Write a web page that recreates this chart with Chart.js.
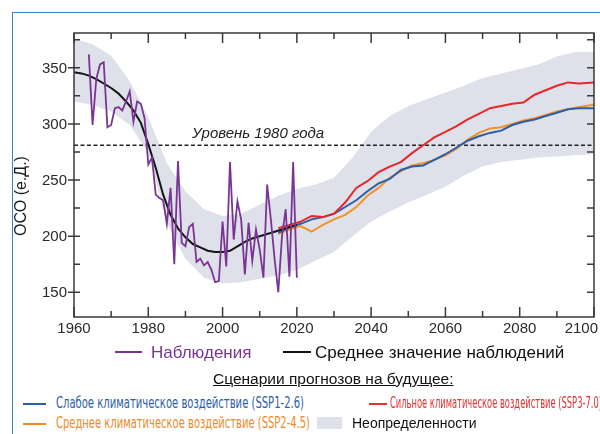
<!DOCTYPE html>
<html>
<head>
<meta charset="utf-8">
<script src="https://cdn.jsdelivr.net/npm/chart.js@4.4.1/dist/chart.umd.min.js"></script>
<style>
  body { margin: 0; background: #fff; }
  #wrap { position: relative; width: 600px; height: 434px; overflow: hidden; font-family: "Liberation Sans", Arial, sans-serif; }
  #frame { position: absolute; left: 12px; top: 12px; width: 600px; height: 440px; border-left: 1.5px solid #3d85c6; border-top: 1.5px solid #3d85c6; }
  #box { position: absolute; left: 0; top: 0; width: 600px; height: 345px; }
  .lg { position: absolute; white-space: nowrap; line-height: 1; }
  .nar { font-family: "Liberation Sans Narrow", "DejaVu Sans Condensed", "Liberation Sans", sans-serif; transform-origin: 0 50%; }
  .seg { position: absolute; height: 2px; }
</style>
</head>
<body>
<div id="wrap">
  <div id="frame"></div>
  <div id="box"><canvas id="myChart"></canvas></div>

  <div class="seg" style="left:115px;top:351px;width:27px;background:#7a3593"></div>
  <div class="lg" style="left:151px;top:344px;font-size:17px;color:#7a3593">Наблюдения</div>
  <div class="seg" style="left:283px;top:351px;width:28px;background:#111"></div>
  <div class="lg" style="left:315px;top:344px;font-size:17px;color:#111">Среднее значение наблюдений</div>

  <div class="lg" style="left:213px;top:371px;font-size:15.5px;color:#111;text-decoration:underline">Сценарии прогнозов на будущее:</div>

  <div class="seg" style="left:23px;top:403px;width:23px;background:#2b5ea8"></div>
  <div class="lg nar" data-w="248" style="left:56px;top:396px;font-size:15px;color:#2b5ea8">Слабое климатическое воздействие (SSP1-2.6)</div>
  <div class="seg" style="left:369px;top:403px;width:18px;background:#e53030"></div>
  <div class="lg nar" data-w="212" style="left:390px;top:396px;font-size:15px;color:#e53030">Сильное климатическое воздействие (SSP3-7.0)</div>

  <div class="seg" style="left:23px;top:423px;width:23px;background:#f08a24"></div>
  <div class="lg nar" data-w="254" style="left:56px;top:416px;font-size:15px;color:#f08a24">Среднее климатическое воздействие (SSP2-4.5)</div>
  <div style="position:absolute;left:317px;top:417px;width:25px;height:12px;background:#dfe1ea"></div>
  <div class="lg" style="left:352px;top:416px;font-size:14px;color:#111">Неопределенности</div>
</div>

<script>
const obsYears = [1964,1965,1966,1967,1968,1969,1970,1971,1972,1973,1974,1975,1976,1977,1978,1979,1980,1981,1982,1983,1984,1985,1986,1987,1988,1989,1990,1991,1992,1993,1994,1995,1996,1997,1998,1999,2000,2001,2002,2003,2004,2005,2006,2007,2008,2009,2010,2011,2012,2013,2014,2015,2016,2017,2018,2019,2020];
const obsValues = [362,299,340,353,355,297,299,314,315,312,320,329,302,320,318,305,264,270,237,234,232,211,243,175,267,194,191,208,211,177,180,174,177,170,159,160,213,173,266,197,231,215,166,212,178,206,188,163,246,215,180,150,200,224,164,266,163];

const meanYears = [1960,1962,1964,1966,1968,1970,1972,1974,1976,1978,1980,1982,1984,1986,1988,1990,1992,1994,1996,1998,2000,2002,2004,2006,2008,2010,2012,2014,2016,2018,2020];
const meanValues = [346,345,343,340,336,332,327,320,312,301,282,261,237,219,207,199,193,190,187,186,186,187,191,195,198,200,202,204,206,208,210];

const bandYears = [1960,1965,1970,1975,1980,1985,1990,1995,2000,2005,2010,2015,2020,2025,2030,2035,2040,2045,2050,2055,2060,2065,2070,2075,2080,2085,2090,2095,2100];
const bandUpper = [376,371,361,338,306,265,240,224,218,220,228,236,242,246,252,270,293,307,316,322,328,334,341,345,349,353,360,364,364];
const bandLower = [320,317,311,299,274,212,180,163,158,159,162,165,170,178,186,200,213,222,230,237,244,254,262,266,268,270,271,272,273];

const scenYears = [2015,2018,2021,2024,2027,2030,2033,2036,2039,2042,2045,2048,2051,2054,2057,2060,2063,2066,2069,2072,2075,2078,2081,2084,2087,2090,2093,2096,2100];
const ssp126 = [203,208,211,215,217,220,226,232,240,247,251,259,262,263,268,273,279,285,289,292,294,299,302,304,307,310,313,314,314];
const ssp245 = [202,206,209,204,210,215,219,226,236,243,252,258,263,265,268,272,278,286,292,296,297,300,303,305,308,311,313,315,317];
const ssp370 = [207,210,213,218,217,220,230,243,249,257,262,266,274,281,288,293,298,304,309,314,316,318,319,326,330,334,337,336,337];

const level1980 = 281;
const levelLabel = 'Уровень 1980 года';

const xTickValues = [1960,1970,1980,1990,2000,2010,2020,2030,2040,2050,2060,2070,2080,2090,2100];
const xTickLabels = ['1960','1980','2000','2020','2040','2060','2080','2100'];
const yTickValues = [150,175,200,225,250,275,300,325,350,375];
const yTickLabels = ['150','200','250','300','350'];
const yTitle = 'ОСО (е.Д.)';

const pts = (xs, ys) => xs.map((x, i) => ({ x: x, y: ys[i] }));
const line = (label, xs, ys, color, width, order) => ({
  label, data: pts(xs, ys), borderColor: color, borderWidth: width,
  pointRadius: 0, fill: false, tension: 0, order
});

const band = '#dfe1ea';

// axes, ticks and labels drawn by hand, inside ticks like the original
const frame = {
  id: 'frame',
  afterDatasetsDraw(chart) {
    const { ctx, chartArea: a, scales: { x, y } } = chart;
    ctx.save();
    ctx.strokeStyle = '#3a3a3a';
    ctx.lineWidth = 1.5;
    ctx.beginPath();
    xTickValues.forEach(v => {
      const px = x.getPixelForValue(v);
      const len = xTickLabels.includes(String(v)) ? 10 : 6;
      ctx.moveTo(px, a.bottom); ctx.lineTo(px, a.bottom - len);
      ctx.moveTo(px, a.top); ctx.lineTo(px, a.top + len);
    });
    yTickValues.forEach(v => {
      const py = y.getPixelForValue(v);
      const major = yTickLabels.includes(String(v));
      ctx.moveTo(major ? a.left - 6 : a.left, py); ctx.lineTo(a.left + 6, py);
      ctx.moveTo(a.right, py); ctx.lineTo(a.right - 7, py);
    });
    ctx.stroke();
    ctx.strokeRect(a.left, a.top, a.width, a.height);

    ctx.fillStyle = '#2a2a2a';
    ctx.font = '15px "Liberation Sans", Arial, sans-serif';
    ctx.textBaseline = 'middle';
    ctx.textAlign = 'right';
    yTickLabels.forEach(t => ctx.fillText(t, a.left - 7, y.getPixelForValue(Number(t)) + 1));
    xTickLabels.forEach((t, i) => {
      const last = i === xTickLabels.length - 1;
      ctx.textAlign = last ? 'right' : 'center';
      const px = x.getPixelForValue(Number(t));
      ctx.fillText(t, last ? Math.min(px + 15, 598) : px, a.bottom + 12);
    });

    ctx.save();
    ctx.translate(22, 196);
    ctx.rotate(-Math.PI / 2);
    ctx.textAlign = 'center';
    ctx.font = '16px "Liberation Sans", Arial, sans-serif';
    ctx.fillStyle = '#1a1a1a';
    ctx.fillText(yTitle, 0, 0);
    ctx.restore();

    ctx.font = 'italic 15px "Liberation Sans", Arial, sans-serif';
    ctx.textAlign = 'left';
    ctx.fillStyle = '#222';
    ctx.fillText(levelLabel, x.getPixelForValue(1991.8), y.getPixelForValue(level1980) - 11);
    ctx.restore();
  }
};

const data = {
  datasets: [
    { label: 'band hi', data: pts(bandYears, bandUpper), borderWidth: 0, pointRadius: 0, fill: '+1', backgroundColor: band, borderColor: band, order: 9 },
    { label: 'band lo', data: pts(bandYears, bandLower), borderWidth: 0, pointRadius: 0, fill: false, borderColor: band, order: 8 },
    { label: 'level', data: [{ x: 1960, y: level1980 }, { x: 2100, y: level1980 }], borderColor: '#222', borderWidth: 1.6, borderDash: [4, 2.5], pointRadius: 0, fill: false, order: 7 },
    line('SSP1-2.6', scenYears, ssp126, '#2b5ea8', 2, 4),
    line('SSP2-4.5', scenYears, ssp245, '#f39224', 2, 5),
    line('SSP3-7.0', scenYears, ssp370, '#e8262a', 2, 3),
    line('mean', meanYears, meanValues, '#151515', 2, 1),
    line('obs', obsYears, obsValues, '#7a3593', 1.8, 0)
  ]
};

const config = {
  type: 'line',
  data,
  options: {
    responsive: true,
    maintainAspectRatio: false,
    animation: false,
    layout: { padding: { left: 74, right: 6, top: 33, bottom: 28 } },
    scales: {
      x: { type: 'linear', min: 1960, max: 2100, display: false },
      y: { type: 'linear', min: 128, max: 381, display: false }
    },
    plugins: { legend: { display: false }, tooltip: { enabled: false } }
  },
  plugins: [frame]
};

var myChart = new Chart(document.getElementById('myChart'), config);

// condensed legend texts squeezed to the width they take in the picture
document.querySelectorAll('.nar').forEach(el => {
  const w = el.getBoundingClientRect().width;
  el.style.transform = 'scaleX(' + (Number(el.dataset.w) / w) + ')';
});
</script>
</body>
</html>
